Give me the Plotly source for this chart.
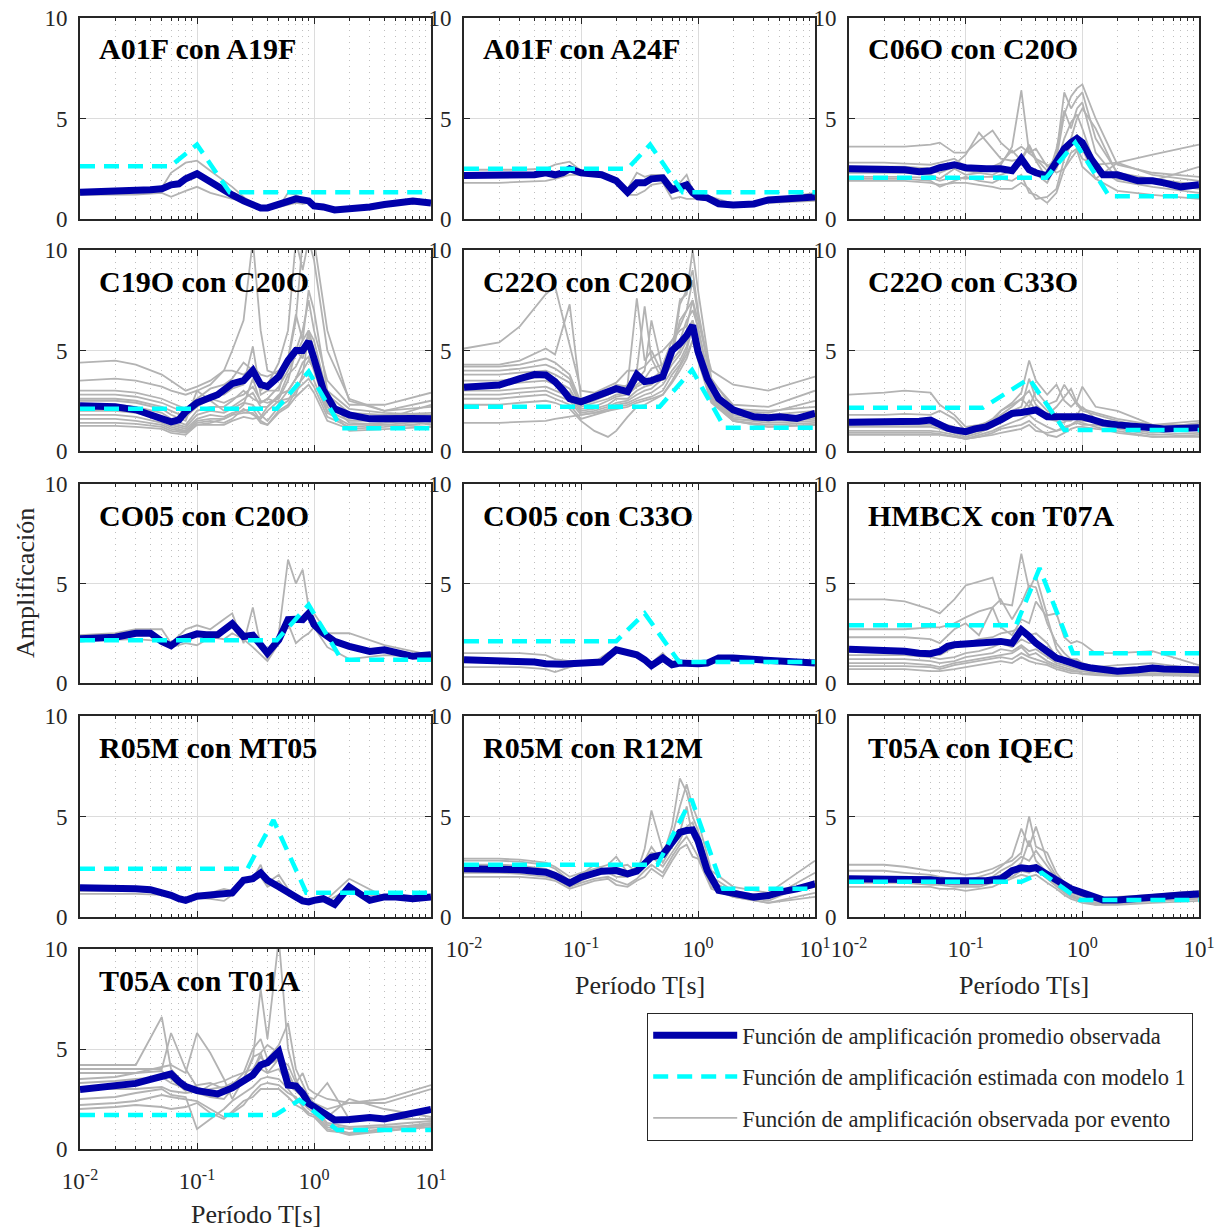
import plotly.graph_objects as go

# ---------------- data ----------------
T = [0.01, 0.02, 0.03, 0.04, 0.05, 0.06, 0.07, 0.08, 0.1, 0.12, 0.15, 0.2, 0.25, 0.3, 0.35,
     0.4, 0.5, 0.6, 0.7, 0.8, 0.9, 1.0, 1.2, 1.5, 2, 3, 4, 5, 7, 10]
TE = [0.01, 0.02, 0.03, 0.05, 0.06, 0.08, 0.1, 0.13, 0.17, 0.2, 0.25, 0.3, 0.35, 0.4, 0.5,
      0.6, 0.7, 0.8, 0.9, 1.0, 1.3, 2, 4, 10]

titles = ["A01F con A19F", "A01F con A24F", "C06O con C20O", "C19O con C20O",
          "C22O con C20O", "C22O con C33O", "CO05 con C20O", "CO05 con C33O",
          "HMBCX con T07A", "R05M con MT05", "R05M con R12M", "T05A con IQEC",
          "T05A con T01A"]

mean_01 = [1.33,1.35,1.38,1.45,1.5,1.7,1.75,2.0,2.25,1.95,1.6,1.2,0.9,0.7,0.55,0.55,0.75,0.95,1.0,0.95,0.9,0.65,0.6,0.45,0.5,0.6,0.72,0.8,0.9,0.8]
mean_02 = [2.17,2.2,2.2,2.2,2.3,2.2,2.3,2.5,2.3,2.25,2.2,1.9,1.33,1.8,1.8,2.0,2.05,1.45,1.6,1.7,1.3,1.1,1.05,0.76,0.7,0.75,0.95,1.0,1.1,1.1]
mean_03 = [2.5,2.5,2.45,2.35,2.4,2.55,2.65,2.7,2.55,2.5,2.5,2.5,2.4,3.0,2.45,2.3,2.15,2.85,3.5,3.8,4.0,3.8,2.95,2.2,2.2,1.9,1.9,1.8,1.6,1.7]
mean_04 = [2.25,2.2,2.05,1.8,1.6,1.45,1.55,1.95,2.4,2.55,2.8,3.35,3.5,4.0,3.3,3.2,3.7,4.5,5.0,5.0,5.45,4.6,3.05,2.1,1.8,1.6,1.62,1.65,1.62,1.6]
mean_05 = [3.17,3.28,3.6,3.8,3.78,3.45,3.03,2.6,2.45,2.6,2.8,3.1,2.95,3.8,3.45,3.5,3.7,5.0,5.35,5.75,6.25,4.95,3.6,2.6,2.05,1.7,1.66,1.7,1.62,1.87]
mean_06 = [1.43,1.43,1.45,1.48,1.54,1.3,1.13,1.05,0.96,1.1,1.2,1.55,1.87,1.92,1.96,2.04,1.7,1.7,1.66,1.62,1.65,1.7,1.57,1.4,1.3,1.26,1.16,1.1,1.13,1.16]
mean_07 = [2.22,2.3,2.5,2.5,2.09,1.87,2.17,2.3,2.47,2.42,2.42,2.98,2.34,2.4,1.92,1.5,2.17,3.18,3.2,3.18,3.5,2.93,2.5,2.09,1.84,1.59,1.67,1.54,1.34,1.42]
mean_08 = [1.17,1.14,1.1,1.05,0.97,0.92,0.94,0.97,1.0,1.02,1.05,1.67,1.5,1.42,1.17,0.87,1.25,0.92,1.0,0.97,0.97,0.97,1.0,1.25,1.25,1.17,1.09,1.09,1.05,1.0]
mean_09 = [1.7,1.67,1.59,1.5,1.47,1.59,1.84,1.92,1.97,1.94,2.0,2.09,2.0,2.67,2.34,2.0,1.59,1.25,1.14,1.0,0.92,0.84,0.75,0.7,0.59,0.67,0.75,0.7,0.67,0.67]
mean_10 = [1.45,1.45,1.41,1.36,1.25,1.08,0.91,0.83,1.03,1.08,1.13,1.2,1.83,1.91,2.19,1.83,1.5,1.28,1.0,0.8,0.75,0.83,0.91,0.63,1.5,0.83,1.0,1.0,0.91,1.0]
mean_11 = [2.4,2.4,2.35,2.28,2.23,2.07,1.85,1.69,1.98,2.12,2.28,2.31,2.15,2.28,2.64,2.98,3.1,3.64,4.21,4.3,4.33,3.8,2.31,1.32,1.19,0.99,1.07,1.24,1.4,1.65]
mean_12 = [1.9,1.9,1.88,1.85,1.85,1.8,1.8,1.78,1.75,1.75,1.8,1.9,2.3,2.45,2.4,2.45,2.1,1.9,1.6,1.4,1.3,1.2,1.0,0.85,0.85,0.95,1.0,1.05,1.1,1.15]
mean_13 = [2.98,3.12,3.28,3.48,3.65,3.75,3.37,3.12,2.92,2.83,2.75,3.05,3.37,3.7,4.2,4.32,4.87,3.2,3.15,2.78,2.28,2.12,1.78,1.45,1.48,1.58,1.5,1.62,1.78,1.98]

model_T_01 = [0.01, 0.059, 0.1, 0.19, 10];  model_A_01 = [2.62, 2.62, 3.7, 1.33, 1.33]
model_T_02 = [0.01, 0.25, 0.39, 0.74, 10];  model_A_02 = [2.5, 2.5, 3.7, 1.33, 1.33]
model_T_03 = [0.01, 0.49, 0.87, 1.7, 10];   model_A_03 = [2.05, 2.05, 3.8, 1.13, 1.13]
model_T_04 = [0.01, 0.48, 0.9, 1.72, 10];   model_A_04 = [2.1, 2.1, 3.95, 1.13, 1.13]
model_T_05 = [0.01, 0.47, 0.89, 1.69, 10];  model_A_05 = [2.2, 2.2, 4.03, 1.16, 1.16]
model_T_06 = [0.01, 0.14, 0.35, 0.70, 10];  model_A_06 = [2.15, 2.15, 3.6, 1.05, 1.05]
model_T_07 = [0.01, 0.48, 0.9, 1.72, 10];   model_A_07 = [2.15, 2.15, 3.93, 1.17, 1.17]
model_T_08 = [0.01, 0.2, 0.35, 0.69, 10];   model_A_08 = [2.1, 2.1, 3.5, 1.05, 1.05]
model_T_09 = [0.01, 0.27, 0.43, 0.83, 10];  model_A_09 = [2.9, 2.9, 5.77, 1.5, 1.5]
model_T_10 = [0.01, 0.27, 0.45, 0.86, 10];  model_A_10 = [2.4, 2.4, 4.82, 1.21, 1.21]
model_T_11 = [0.01, 0.45, 0.88, 1.64, 10];  model_A_11 = [2.6, 2.6, 5.87, 1.4, 1.4]
model_T_12 = [0.01, 0.3, 0.45, 0.95, 10];   model_A_12 = [1.75, 1.75, 2.2, 0.85, 0.85]
model_T_13 = [0.01, 0.47, 0.75, 1.58, 10];  model_A_13 = [1.7, 1.7, 2.45, 0.95, 0.95]

events_01 = [
    [1.4,1.4,1.42,1.55,2.3,2.8,2.9,2.4,1.9,1.6,1.1,0.8,0.6,0.55,0.6,1.3,1.2,1.0,0.9,0.7,0.6,0.5,0.7,0.85],
    [1.2,1.2,1.22,1.3,1.1,1.4,1.6,1.3,1.1,1.0,0.9,0.7,0.5,0.45,0.6,0.7,0.8,0.75,0.8,0.6,0.55,0.5,0.7,0.8],
]
events_02 = [
    [2.45,2.45,2.45,2.5,2.7,2.85,2.4,2.3,2.2,1.95,1.5,2.3,2.1,2.2,2.2,1.6,1.8,2.2,1.4,1.2,1.1,0.75,0.95,1.3],
    [1.8,1.8,1.85,1.9,2.0,2.2,2.2,2.2,2.1,1.85,1.2,1.2,1.4,1.7,1.8,1.0,1.1,1.0,1.0,1.0,0.9,0.7,0.8,0.9],
]
events_03 = [
    [3.6,3.6,3.6,3.7,3.8,3.3,3.3,3.9,4.4,3.8,3.3,3.6,3.3,3.0,2.7,2.3,2.5,3.3,3.5,3.0,2.7,2.8,3.2,3.7],
    [2.8,2.8,2.75,2.7,2.8,3.0,2.6,2.5,2.5,2.7,3.6,6.4,3.3,3.5,2.6,3.0,5.2,6.1,6.5,6.7,5.0,2.7,2.3,2.1],
    [2.6,2.6,2.6,2.5,2.5,2.7,3.2,4.3,3.5,3.0,2.9,3.0,3.7,3.0,2.4,3.2,6.3,5.5,6.0,6.3,4.0,2.3,2.0,1.7],
    [2.3,2.3,2.3,2.2,2.0,2.5,2.2,2.3,2.6,2.8,3.4,2.9,3.6,2.9,2.0,3.5,5.4,4.5,5.5,5.8,3.3,2.0,1.8,1.5],
    [2.1,2.1,2.1,2.05,1.9,2.1,2.0,2.1,2.1,2.2,2.4,2.8,2.5,2.2,1.8,2.7,4.0,4.8,5.2,4.5,2.6,1.9,1.6,1.3],
    [2.0,2.0,2.0,1.9,1.6,1.9,2.1,1.9,1.8,2.0,1.9,2.2,1.3,1.2,0.8,1.3,2.5,3.0,3.4,2.6,2.0,2.8,2.2,1.9],
    [1.9,1.9,1.9,1.8,1.7,1.8,1.8,1.7,1.6,1.5,1.5,1.8,1.5,1.0,1.1,1.5,3.0,3.7,4.2,3.5,2.0,1.4,1.2,1.0],
    [2.5,2.5,2.5,2.4,2.3,2.6,2.4,2.3,2.2,2.4,2.5,2.7,2.6,2.4,2.0,2.5,3.5,4.0,5.0,5.5,4.5,2.2,1.9,2.6],
]
events_04 = [
    [4.4,4.5,4.3,3.8,3.5,3.0,3.2,3.5,4.0,4.0,3.8,4.2,3.8,3.7,4.0,4.5,5.0,6.0,7.5,6.0,3.5,2.3,2.3,2.9],
    [3.5,3.6,3.5,3.2,3.0,2.8,3.0,3.3,4.0,5.0,6.5,10.5,6.0,4.0,3.8,4.5,6.5,10.5,10.5,9.5,5.0,2.6,2.0,2.2],
    [3.0,3.0,2.9,2.6,2.4,2.1,2.6,3.1,3.3,3.6,4.4,4.0,3.0,3.3,4.4,6.0,10.5,9.0,10.5,10.5,6.0,2.5,2.0,2.5],
    [2.8,2.8,2.7,2.4,2.2,1.9,2.4,2.8,2.8,3.1,3.3,5.2,2.8,3.0,3.0,4.6,6.8,5.5,8.0,7.0,3.0,2.1,1.9,1.8],
    [2.6,2.6,2.5,2.2,2.0,1.7,2.2,2.6,2.4,2.6,2.8,3.2,2.5,2.4,2.6,3.5,5.0,4.6,6.0,5.5,2.8,1.9,1.8,1.9],
    [2.5,2.5,2.4,2.1,1.8,1.5,3.0,2.5,2.0,2.2,2.6,2.9,2.2,2.2,2.7,3.8,4.2,4.9,5.2,4.5,2.3,1.7,1.6,2.3],
    [2.3,2.3,2.2,1.9,1.6,1.3,2.0,2.2,2.2,2.5,3.0,2.6,2.4,2.6,2.4,3.0,3.6,4.4,4.7,4.0,2.0,1.5,1.5,1.8],
    [2.1,2.1,2.0,1.7,1.4,1.2,1.8,2.0,1.9,2.1,2.4,2.3,1.8,1.5,2.2,2.5,3.2,3.6,4.0,3.5,1.9,1.3,1.4,1.6],
    [2.0,2.0,1.9,1.6,1.3,1.1,1.6,1.8,1.7,1.9,2.0,2.1,1.5,1.3,2.0,2.3,3.0,3.3,3.6,3.2,1.7,1.2,1.3,1.5],
    [1.8,1.8,1.7,1.4,1.2,1.0,1.5,1.6,1.6,1.8,1.9,1.9,1.4,1.3,1.9,2.2,2.7,3.0,3.3,2.9,1.5,1.1,1.2,1.4],
    [1.6,1.6,1.5,1.3,1.1,0.95,1.4,1.5,1.4,1.6,2.1,1.8,1.6,2.0,2.5,2.6,2.8,3.8,5.8,4.8,2.4,1.6,1.7,1.3],
    [1.4,1.4,1.35,1.2,1.0,0.9,1.3,1.3,1.3,1.5,1.7,1.6,1.7,2.2,2.8,3.0,3.6,4.0,4.5,4.1,2.2,1.0,1.1,1.2],
    [1.25,1.25,1.2,1.1,0.9,0.8,1.3,1.4,1.6,1.8,2.3,3.6,2.4,2.6,3.2,4.0,4.8,5.5,6.0,5.0,2.6,1.4,1.3,1.2],
]
events_05 = [
    [5.1,5.4,6.2,7.8,8.2,5.2,3.0,2.9,3.2,3.4,4.0,4.0,4.2,4.6,5.0,5.5,6.2,7.0,7.5,6.5,4.0,3.3,3.0,3.7],
    [4.3,4.3,4.5,5.1,4.8,7.3,2.6,2.7,2.8,3.0,3.3,7.6,4.5,5.0,3.8,4.6,7.3,8.0,9.0,7.0,3.5,2.3,2.2,3.0],
    [4.2,4.2,4.3,4.6,4.4,3.8,2.4,2.6,3.0,3.3,3.2,4.0,7.2,4.6,3.5,5.0,7.5,7.8,10.0,8.0,3.6,2.1,2.0,2.2],
    [4.0,4.0,4.1,4.3,4.1,3.6,2.3,2.5,2.8,3.0,3.0,3.5,4.0,6.5,4.0,4.8,6.5,7.0,8.5,6.8,3.3,2.0,1.9,2.5],
    [3.8,3.8,3.9,4.0,3.8,3.4,2.2,2.4,2.6,2.8,2.9,3.3,3.6,4.1,4.3,5.5,6.0,6.2,7.5,6.0,3.1,1.9,1.8,2.0],
    [3.5,3.5,3.6,3.7,3.5,3.1,2.1,2.2,2.5,2.7,2.8,3.2,3.4,3.6,4.0,4.8,5.5,6.5,7.0,6.2,3.0,1.8,1.7,1.8],
    [3.3,3.3,3.4,3.5,3.3,2.9,2.0,2.1,2.3,2.6,2.6,3.0,3.2,3.3,3.8,4.5,5.0,6.0,6.5,5.5,2.8,1.7,1.6,1.7],
    [3.0,3.0,3.1,3.2,3.0,2.7,1.9,2.0,2.2,2.4,2.5,2.8,3.0,3.1,3.6,4.3,4.8,5.5,6.0,5.0,2.7,1.6,1.5,1.6],
    [2.8,2.8,2.9,3.0,2.8,2.5,1.8,1.9,2.1,2.3,2.4,2.6,2.8,2.9,3.3,4.0,4.5,5.2,6.5,5.2,2.6,1.6,1.4,1.5],
    [2.6,2.6,2.7,2.8,2.6,2.3,1.6,1.8,2.0,2.2,2.3,2.5,2.6,2.7,3.0,3.8,4.3,5.0,6.2,4.8,2.5,1.5,1.3,1.4],
    [2.3,2.3,2.4,2.5,2.4,2.1,1.5,1.0,0.7,1.0,1.7,2.2,2.3,2.5,2.8,3.5,4.2,4.8,5.5,4.5,2.4,1.5,1.2,1.3],
    [1.4,1.4,1.45,1.5,1.6,1.7,1.8,1.9,2.0,2.1,2.2,2.4,2.5,2.6,2.8,3.4,4.0,4.6,5.5,4.6,2.5,1.5,1.2,1.3],
]
events_06 = [
    [2.8,2.9,3.0,2.9,2.3,1.8,1.2,1.3,1.5,1.8,2.2,2.6,3.0,2.3,1.8,2.2,2.7,3.1,2.4,2.1,1.9,1.6,1.3,1.5],
    [1.8,1.8,1.85,1.8,2.0,1.6,1.0,1.2,1.5,2.0,2.4,2.9,4.5,3.5,2.8,3.3,2.5,2.2,2.5,3.2,2.2,2.0,1.3,1.3],
    [1.5,1.5,1.5,1.5,1.4,1.2,1.0,1.2,1.6,2.0,2.3,2.6,2.2,3.0,2.3,2.5,3.3,2.8,2.3,2.0,1.8,1.5,1.1,1.4],
    [1.3,1.3,1.3,1.3,1.2,1.0,0.8,1.0,1.4,1.7,2.0,2.2,3.6,2.6,2.0,1.8,1.5,1.5,1.8,2.2,1.6,1.4,1.0,1.2],
    [1.2,1.2,1.2,1.2,1.1,0.9,0.7,0.9,1.2,1.5,1.8,1.9,2.5,2.0,1.6,1.5,1.4,1.8,1.6,1.5,1.5,1.2,0.9,1.1],
    [1.0,1.0,1.0,1.0,0.95,0.8,0.6,0.8,1.0,1.2,1.4,1.6,1.8,1.5,1.2,1.0,1.1,1.3,1.4,1.3,1.3,1.1,0.8,0.9],
    [0.9,0.9,0.9,0.9,0.85,0.7,0.6,0.7,0.9,1.1,1.2,1.3,1.5,1.2,0.8,0.7,0.9,1.1,1.2,1.2,1.1,1.0,0.7,0.8],
    [0.8,0.8,0.8,0.8,0.8,0.7,0.6,0.7,0.8,0.9,1.0,1.1,1.3,1.0,0.9,1.0,1.2,1.3,1.5,1.4,1.2,0.9,0.7,0.7],
]
events_07 = [
    [2.4,2.5,2.7,2.7,2.0,2.7,2.9,2.7,3.2,3.5,2.0,3.8,1.9,1.2,2.5,6.2,5.0,5.7,3.8,3.5,2.5,2.5,1.9,1.4],
    [2.1,2.15,2.2,2.1,1.8,2.0,1.9,2.3,2.2,2.5,2.2,1.8,1.4,1.1,2.0,3.0,2.0,2.3,2.5,2.8,1.8,1.2,1.4,1.3],
]
events_08 = [
    [1.5,1.5,1.5,1.4,1.2,1.1,1.05,1.05,1.5,1.7,1.55,1.45,1.2,1.0,1.5,0.95,1.1,1.0,1.0,1.0,1.1,1.3,1.15,1.05],
    [0.8,0.8,0.8,0.7,0.55,0.8,0.95,1.0,1.5,1.65,1.5,1.4,1.15,0.8,1.1,0.9,0.95,0.95,0.95,0.95,1.0,1.2,1.05,0.95],
]
events_09 = [
    [4.2,4.2,4.1,3.7,3.5,4.2,4.9,5.1,5.3,4.0,3.9,6.5,4.7,5.4,3.4,3.5,2.3,2.0,2.1,2.0,1.5,1.5,1.6,0.9],
    [2.7,2.7,2.7,2.8,2.8,3.0,3.3,3.6,3.8,4.2,3.2,4.0,4.9,4.8,3.0,2.0,1.5,1.2,1.2,1.0,0.8,0.7,0.8,0.7],
    [2.3,2.3,2.3,2.2,2.0,2.7,3.0,2.4,3.8,2.8,2.4,3.2,3.0,4.1,3.3,1.7,1.2,1.0,1.1,0.9,0.8,0.9,1.0,0.7],
    [1.6,1.6,1.6,1.5,1.4,1.8,2.0,2.2,2.3,2.5,2.6,2.8,2.4,2.5,2.0,1.3,1.2,1.0,0.9,0.8,0.7,0.6,0.7,0.6],
    [1.4,1.4,1.4,1.3,1.2,1.3,1.5,1.6,1.8,2.0,1.8,2.2,2.0,2.0,1.6,1.2,1.0,0.9,0.8,0.8,0.7,0.6,0.6,0.6],
    [1.2,1.2,1.2,1.1,1.0,1.1,1.3,1.4,1.5,1.7,1.6,1.9,1.6,1.7,1.3,1.0,0.9,0.8,0.7,0.7,0.6,0.5,0.6,0.5],
    [1.0,1.0,1.0,0.9,0.8,1.0,1.1,1.2,1.3,1.4,1.5,1.8,1.4,1.5,1.1,0.9,0.8,0.7,0.6,0.6,0.5,0.5,0.5,0.5],
    [0.85,0.85,0.85,0.8,0.7,0.9,1.0,1.1,1.2,1.3,1.2,1.5,1.3,1.2,1.0,0.8,0.7,0.6,0.6,0.5,0.45,0.4,0.45,0.4],
    [0.7,0.7,0.7,0.6,0.6,0.7,0.8,0.9,1.0,1.1,1.0,1.3,1.1,1.0,0.9,0.7,0.6,0.5,0.5,0.45,0.4,0.35,0.4,0.35],
]
events_10 = [
    [1.3,1.3,1.3,1.2,1.1,0.9,1.0,1.2,1.4,1.3,1.7,1.9,2.6,1.7,2.1,1.4,1.1,0.85,0.8,0.9,0.9,1.9,1.0,1.0],
    [1.15,1.15,1.15,1.1,1.0,0.85,0.95,0.9,0.8,1.1,1.8,1.8,2.0,1.5,1.8,1.2,1.0,0.8,0.7,0.8,0.8,1.4,0.9,0.9],
]
events_11 = [
    [2.9,2.9,2.85,2.7,2.5,2.0,2.2,2.4,2.6,3.0,2.2,2.5,2.8,3.2,3.0,4.5,6.9,6.2,5.0,4.3,2.0,1.3,1.0,1.5],
    [2.8,2.8,2.75,2.6,2.4,1.8,2.1,2.6,2.3,2.5,2.6,2.2,3.4,5.3,3.3,4.0,5.5,6.6,5.5,4.8,2.3,1.5,1.2,2.8],
    [2.6,2.6,2.55,2.4,2.2,1.6,1.9,2.2,2.4,2.2,2.1,2.4,2.8,3.5,2.7,3.5,4.2,5.5,4.0,3.5,1.8,1.2,0.9,2.2],
    [2.4,2.4,2.35,2.2,2.0,1.5,1.8,2.1,2.2,2.0,2.0,2.2,2.5,3.0,2.5,3.2,3.8,4.5,4.7,3.8,1.7,1.1,0.8,1.8],
    [2.2,2.2,2.15,2.0,1.9,1.5,1.7,1.9,2.0,1.8,1.6,1.9,2.3,2.6,2.2,3.0,3.6,4.0,3.5,3.0,1.5,1.0,0.7,1.2],
    [2.0,2.0,2.0,1.9,1.8,1.4,1.6,1.8,1.9,1.6,1.5,1.8,2.0,2.4,2.0,2.8,3.4,3.6,3.0,2.9,1.4,1.0,0.7,1.0],
]
events_12 = [
    [2.6,2.6,2.5,2.3,2.3,2.2,2.1,2.2,2.4,2.6,2.8,3.2,5.0,3.5,3.2,2.2,1.7,1.5,1.3,1.2,0.9,1.0,1.1,1.3],
    [2.3,2.3,2.2,2.1,2.0,1.9,1.8,2.0,2.2,2.5,3.0,4.4,3.5,4.5,2.8,2.0,1.5,1.2,1.1,1.0,0.8,0.9,1.0,1.2],
    [2.0,2.0,2.0,2.0,1.9,1.8,1.7,1.8,2.0,2.3,2.6,3.0,2.8,3.3,2.5,1.9,1.4,1.1,1.0,0.9,0.7,0.8,0.9,1.1],
    [1.9,1.9,1.85,1.8,1.8,1.7,1.6,1.7,1.9,2.1,2.3,2.7,3.8,2.8,2.2,1.7,1.3,1.1,0.9,0.9,0.7,0.75,0.9,1.0],
    [1.8,1.8,1.75,1.7,1.7,1.6,1.6,1.6,1.8,2.0,2.2,2.5,2.4,2.6,2.0,1.6,1.3,1.0,0.9,0.8,0.65,0.7,0.85,0.95],
    [1.7,1.7,1.7,1.6,1.6,1.5,1.5,1.5,1.7,1.9,2.0,2.3,2.2,2.4,1.9,1.5,1.2,1.0,0.9,0.8,0.6,0.65,0.8,0.9],
    [1.5,1.5,1.5,1.5,1.4,1.4,1.3,1.4,1.5,1.7,1.9,2.1,2.0,2.1,1.7,1.4,1.1,0.9,0.8,0.7,0.6,0.6,0.7,0.8],
]
events_13 = [
    [4.2,4.2,4.2,6.6,4.0,3.2,2.8,2.6,2.5,3.0,3.5,4.5,8.0,5.5,10.5,5.0,3.5,2.8,2.6,2.5,3.3,1.5,1.5,1.5],
    [4.0,4.0,4.0,4.0,5.8,4.0,3.1,2.8,2.9,3.2,3.8,5.0,5.5,4.5,5.2,6.3,4.0,3.3,2.6,2.3,2.0,2.3,2.5,3.2],
    [3.8,3.8,3.8,4.1,4.2,3.8,5.8,4.8,3.5,2.5,3.5,4.6,4.8,3.8,4.5,4.2,3.3,3.8,3.0,2.8,2.5,2.3,2.3,3.0],
    [3.5,3.6,3.8,3.9,3.5,2.9,3.2,3.3,3.0,3.2,3.3,3.9,4.8,5.2,4.8,3.8,3.0,2.8,2.4,2.0,1.6,2.5,2.0,1.6],
    [3.3,3.4,3.5,3.6,3.3,3.0,2.8,3.2,3.4,3.6,3.8,4.0,4.6,4.2,4.5,3.5,3.1,3.0,2.3,2.1,1.3,1.1,1.2,1.4],
    [3.0,3.0,3.0,3.1,2.9,2.8,2.9,3.0,3.1,3.3,3.5,3.7,4.0,3.8,4.0,3.2,2.9,2.6,2.2,2.0,1.2,1.0,1.1,1.2],
    [2.5,2.6,2.8,3.0,2.7,2.6,1.0,1.5,2.0,2.4,2.8,3.1,3.5,3.6,3.5,3.0,2.5,2.3,2.0,1.8,1.1,0.8,1.0,1.3],
    [2.2,2.3,2.4,2.7,2.6,2.5,2.4,2.0,1.6,1.8,2.2,2.8,3.2,3.3,3.2,2.8,2.6,2.1,1.8,1.7,1.0,0.7,0.9,1.1],
    [2.0,2.1,2.2,2.1,2.0,2.1,2.3,1.8,1.5,1.9,2.4,2.6,3.0,3.0,3.0,2.6,2.2,2.0,1.7,1.6,0.9,0.8,0.9,1.2],
]

x_tickvals = [0.01, 0.1, 1, 10]
x_ticktext = ["10<sup>-2</sup>", "10<sup>-1</sup>", "10<sup>0</sup>", "10<sup>1</sup>"]
y_tickvals = [0, 5, 10]
legend_names = ["Función de amplificación promedio observada",
                "Función de amplificación estimada con modelo 1",
                "Función de amplificación observada por evento"]

means = [mean_01, mean_02, mean_03, mean_04, mean_05, mean_06, mean_07, mean_08,
         mean_09, mean_10, mean_11, mean_12, mean_13]
model_Ts = [model_T_01, model_T_02, model_T_03, model_T_04, model_T_05, model_T_06, model_T_07,
            model_T_08, model_T_09, model_T_10, model_T_11, model_T_12, model_T_13]
model_As = [model_A_01, model_A_02, model_A_03, model_A_04, model_A_05, model_A_06, model_A_07,
            model_A_08, model_A_09, model_A_10, model_A_11, model_A_12, model_A_13]
events = [events_01, events_02, events_03, events_04, events_05, events_06, events_07,
          events_08, events_09, events_10, events_11, events_12, events_13]

# ---------------- style / layout ----------------
W, H = 1222, 1230          # body margin is removed by the post script below
OFF = 0
SERIF = "Liberation Serif, Times New Roman, serif"
BLUE = "#0000AA"
CYAN = "#00FFFF"
GRAY = "#B3B3B3"
AXC = "#262626"
col_px = [(80, 431), (464, 815), (849, 1199)]
row_px = [(18, 219), (250, 451), (484, 683), (716, 917), (949, 1149)]
minor_vals = [m * 10 ** e for e in (-2, -1, 0) for m in range(2, 10)]
bottom_panels = {10, 11, 12}


def px_x(p):
    return (p - OFF) / W


def px_y(p):
    return 1 - (p - OFF) / H


fig = go.Figure()
layout = {}
annotations = []

for i in range(13):
    r, c = divmod(i, 3)
    x0, x1 = col_px[c]
    yt, yb = row_px[r]
    sfx = "" if i == 0 else str(i + 1)
    xa, ya = "x" + sfx, "y" + sfx

    for k, ev in enumerate(events[i]):
        fig.add_trace(go.Scatter(
            x=TE, y=ev, mode="lines", line=dict(color=GRAY, width=1.8),
            xaxis=xa, yaxis=ya, name=legend_names[2], legendgroup="c", legendrank=3,
            showlegend=(i == 0 and k == 0), hoverinfo="skip"))
    fig.add_trace(go.Scatter(
        x=T, y=means[i], mode="lines", line=dict(color=BLUE, width=7),
        xaxis=xa, yaxis=ya, name=legend_names[0], legendgroup="a", legendrank=1,
        showlegend=(i == 0)))
    fig.add_trace(go.Scatter(
        x=model_Ts[i], y=model_As[i], mode="lines",
        line=dict(color=CYAN, width=4.5, dash="15px,9px"),
        xaxis=xa, yaxis=ya, name=legend_names[1], legendgroup="b", legendrank=2,
        showlegend=(i == 0)))

    layout["xaxis" + sfx] = dict(
        type="log", range=[-2, 1], domain=[px_x(x0), px_x(x1)], anchor=ya, automargin=False,
        tickmode="array", tickvals=x_tickvals, ticktext=x_ticktext,
        showticklabels=(i in bottom_panels), ticks="inside", ticklen=6,
        tickcolor=AXC, tickwidth=1.2, ticklabeloverflow="allow",
        showline=True, linecolor=AXC, linewidth=1.6, mirror="ticks",
        showgrid=True, gridcolor="#DCDCDC", gridwidth=1, zeroline=False,
        tickfont=dict(family=SERIF, size=23, color=AXC), ticklabelstandoff=11,
        minor=dict(tickmode="array", tickvals=minor_vals, ticks="inside", ticklen=3,
                   tickcolor=AXC, showgrid=True, gridcolor="#BEBEBE", griddash="1px,5px",
                   gridwidth=1.2),
    )
    layout["yaxis" + sfx] = dict(
        range=[0, 10], domain=[px_y(yb), px_y(yt)], anchor=xa, automargin=False,
        tickmode="array", tickvals=y_tickvals, ticks="inside", ticklen=6,
        tickcolor=AXC, tickwidth=1.2, ticklabeloverflow="allow",
        showline=True, linecolor=AXC, linewidth=1.6, mirror="ticks",
        showgrid=True, gridcolor="#DCDCDC", gridwidth=1, zeroline=False,
        tickfont=dict(family=SERIF, size=23, color=AXC), ticklabelstandoff=6,
    )
    annotations.append(dict(
        text="<b>" + titles[i] + "</b>", xref="paper", yref="paper",
        x=px_x(x0 + 17), y=px_y(yt + 31), xanchor="left", yanchor="middle",
        showarrow=False, font=dict(family=SERIF, size=30, color="black")))

# axis titles
for cx, cy in [((464 + 815) / 2, 985), ((849 + 1199) / 2, 985), ((80 + 431) / 2, 1214)]:
    annotations.append(dict(
        text="Período T[s]", xref="paper", yref="paper", x=px_x(cx), y=px_y(cy),
        xanchor="center", yanchor="middle", showarrow=False,
        font=dict(family=SERIF, size=26, color=AXC)))
annotations.append(dict(
    text="Amplificación", xref="paper", yref="paper", x=px_x(25), y=px_y(583),
    xanchor="center", yanchor="middle", textangle=-90, showarrow=False,
    font=dict(family=SERIF, size=26, color=AXC)))

layout.update(
    width=W, height=H, margin=dict(l=0, r=0, t=0, b=0, autoexpand=False),
    paper_bgcolor="white", plot_bgcolor="white",
    annotations=annotations,
    showlegend=True,
    legend=dict(x=px_x(647), y=px_y(1013), xanchor="left", yanchor="top",
                bgcolor="white", bordercolor=AXC, borderwidth=1.2,
                font=dict(family=SERIF, size=22.5, color=AXC),
                itemwidth=84, traceorder="grouped", tracegroupgap=9),
)
fig.update_layout(**layout)
fig.write_html("out.html",
               config={"displayModeBar": False},
               post_script="document.body.style.margin='0px';"
                           "document.body.style.overflow='hidden';")
